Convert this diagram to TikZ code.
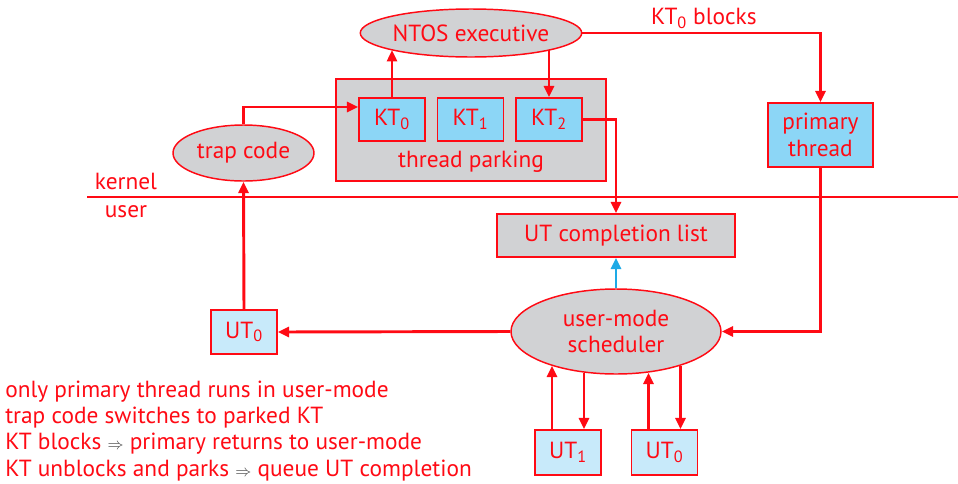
\documentclass[tikz,border=0pt]{standalone}
\usepackage{fontspec}
\setmainfont{PT Sans}
\usetikzlibrary{shapes.geometric,arrows.meta}
\definecolor{myred}{RGB}{255,10,20}
\definecolor{gr}{RGB}{209,210,212}
\definecolor{ktblue}{RGB}{140,214,246}
\definecolor{utblue}{RGB}{200,234,250}
\definecolor{arrblue}{RGB}{30,170,230}
\tikzset{
  fnt/.style={font=\fontsize{17.5pt}{20pt}\selectfont},
  base/.style={fnt, draw=myred, text=myred, line width=1.1pt, inner sep=0pt, align=center},
  ell/.style={base, ellipse, fill=gr},
  gbox/.style={base, rectangle, fill=gr},
  kt/.style={base, rectangle, fill=ktblue},
  ut/.style={base, rectangle, fill=utblue},
  tip/.style={-{Triangle[length=8.5pt,width=7.5pt]}},
  arr/.style={draw=myred, line width=2.2pt, tip},
  lbl/.style={fnt, text=myred, inner sep=0pt},
  note/.style={lbl, anchor=base west},
}
\newcommand{\impl}{{\color{black!75}\fontsize{12pt}{12pt}\selectfont$\Rightarrow$}}
\begin{document}
\begin{tikzpicture}[x=0.75pt,y=-0.75pt]
\useasboundingbox (0,0) rectangle (958,483);
% nodes
\node[ell, minimum width=165pt, minimum height=36pt] (ntos) at (471,33) {NTOS executive};
\node[gbox, minimum width=202.5pt, minimum height=76.5pt] (park) at (471,130) {};
\node[lbl] (parklbl) at (471,162) {thread parking};
\node[kt, minimum width=49.5pt, minimum height=32.25pt] (kt0) at (392,119.5) {KT\textsubscript{0}};
\node[kt, minimum width=49.5pt, minimum height=32.25pt] (kt1) at (470.5,119.5) {KT\textsubscript{1}};
\node[kt, minimum width=49.5pt, minimum height=32.25pt] (kt2) at (549,119.5) {KT\textsubscript{2}};
\node[kt, minimum width=78.75pt, minimum height=48pt] (prim) at (820.5,135) {primary\\thread};
\node[ell, minimum width=105.75pt, minimum height=42pt] (trap) at (243.5,153) {trap code};
\node[gbox, minimum width=178.5pt, minimum height=32.25pt] (list) at (616,235.5) {UT completion list};
\node[ell, minimum width=157.5pt, minimum height=63.75pt] (sched) at (616,331.5) {user-mode\\scheduler};
\node[ut, minimum width=49.5pt, minimum height=33pt] (ut0l) at (244,332) {UT\textsubscript{0}};
\node[ut, minimum width=49.5pt, minimum height=33.75pt] (ut1) at (568,452.5) {UT\textsubscript{1}};
\node[ut, minimum width=49.5pt, minimum height=33.75pt] (ut0r) at (664.5,452.5) {UT\textsubscript{0}};
% kernel/user boundary
\coordinate (kl) at (87,197);
\coordinate (kr) at (958,197);
\draw[myred, line width=0.8pt] (kl) -- (kr);
\node[lbl] (kern) at (126,181) {kernel};
\node[lbl] (usr) at (126,212) {user};
% connectors
\draw[arr] (trap.north) |- ([yshift=9.4pt]kt0.west);
\draw[arr] (kt0.north) -- (kt0.north |- ntos.192);
\draw[arr] (kt2.north |- ntos.348) -- (kt2.north);
\draw[arr] (ntos.east) -| node[lbl, pos=0.255, above=2.5pt] (blk) {KT\textsubscript{0} blocks} (prim.north);
\draw[arr] (kt2.east) -| (list.north);
\draw[draw=arrblue, line width=2.2pt, tip] (sched.north) -- (list.south);
\draw[arr] (prim.south) |- (sched.east);
\draw[arr] (sched.west) -- (ut0l.east);
\draw[arr] (ut0l.north) -- (trap.south);
\coordinate (a1) at ([xshift=-12pt]ut1.north);
\coordinate (a2) at ([xshift=12pt]ut1.north);
\coordinate (a3) at ([xshift=-12pt]ut0r.north);
\coordinate (a4) at ([xshift=12pt]ut0r.north);
\draw[arr] (a1) -- (a1 |- sched.208);
\draw[arr] (a2 |- sched.232) -- (a2);
\draw[arr] (a3) -- (a3 |- sched.308);
\draw[arr] (a4 |- sched.332) -- (a4);
% notes
\node[note] (n1) at (5,397) {only primary thread runs in user-mode};
\node[note] (n2) at (5,423.3) {trap code switches to parked KT};
\node[note] (n3) at (5,449.6) {KT blocks \impl{} primary returns to user-mode};
\node[note] (n4) at (5,476) {KT unblocks and parks \impl{} queue UT completion};
\end{tikzpicture}
\end{document}
